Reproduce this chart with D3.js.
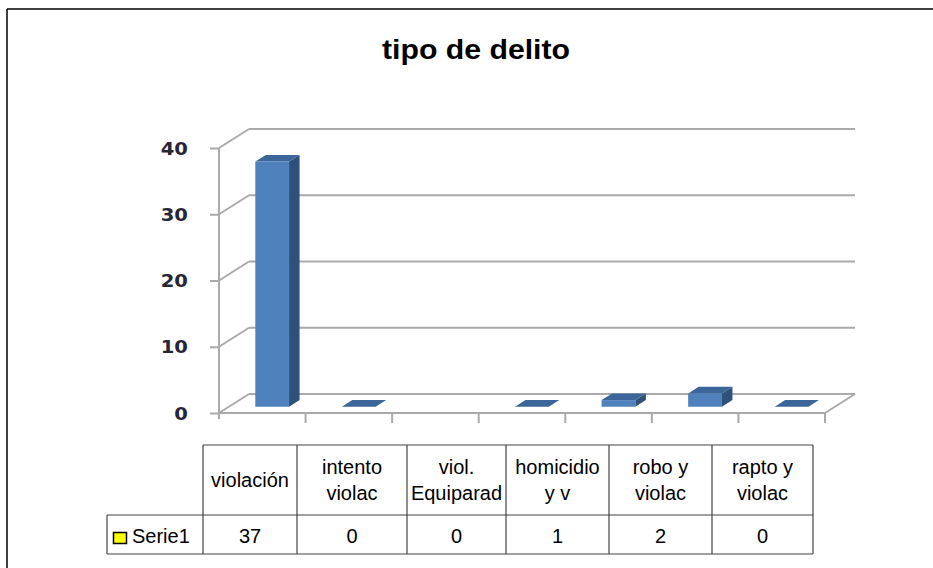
<!DOCTYPE html>
<html>
<head>
<meta charset="utf-8">
<script src="https://cdn.jsdelivr.net/npm/d3@7"></script>
<style>
  html, body { margin: 0; padding: 0; background: #fff; }
  svg { display: block; }
</style>
</head>
<body>
<svg id="chart" width="933" height="568"></svg>
<script>
// ---- data ----
const title = "tipo de delito";
const seriesName = "Serie1";
// axis slots of the 3D chart (one slot is blank in the original)
const slotCategories = ["violación", "intento violac", "", "viol. Equiparad", "homicidio y v", "robo y violac", "rapto y violac"];
const slotValues = [37, 0, null, 0, 1, 2, 0];
// data table below the chart
const tableHeaders = [["violación"], ["intento", "violac"], ["viol.", "Equiparad"], ["homicidio", "y v"], ["robo y", "violac"], ["rapto y", "violac"]];
const tableValues = [37, 0, 0, 1, 2, 0];
const yTicks = [0, 10, 20, 30, 40];

// ---- layout ----
const svg = d3.select("#chart");
const X0 = 219, X1 = 825;       // front floor line
const DX = 30, DY = -19;        // depth offset of back wall
const F0 = 0.33, F1 = 0.68;     // bar depth position fraction
const gridColor = "#aaaaaa";

const x = d3.scaleBand().domain(d3.range(slotCategories.length)).range([X0, X1]).paddingInner(0).paddingOuter(0);
const y = d3.scaleLinear().domain([0, 40]).range([413, 148]);

// frame
svg.append("line").attr("x1", 7).attr("x2", 7).attr("y1", 9).attr("y2", 568).attr("stroke", "#000").attr("stroke-width", 1.5);
svg.append("line").attr("x1", 7).attr("x2", 933).attr("y1", 9).attr("y2", 9).attr("stroke", "#000").attr("stroke-width", 1.5);

// title
svg.append("text").attr("x", 476).attr("y", 59)
  .attr("text-anchor", "middle")
  .attr("font-family", "Liberation Sans, Arial, sans-serif")
  .attr("font-weight", "bold").attr("font-size", 28)
  .attr("textLength", 188).attr("lengthAdjust", "spacingAndGlyphs")
  .text(title);

// grid: side wall diagonals + back wall horizontals
const grid = svg.append("g").attr("stroke", gridColor).attr("stroke-width", 2).attr("fill", "none");
yTicks.forEach(t => {
  grid.append("line").attr("x1", X0).attr("y1", y(t)).attr("x2", X0 + DX).attr("y2", y(t) + DY);
  grid.append("line").attr("x1", X0 + DX).attr("y1", y(t) + DY).attr("x2", X1 + DX).attr("y2", y(t) + DY);
});
// floor right edge + front edge
grid.append("line").attr("x1", X1).attr("y1", y(0)).attr("x2", X1 + DX).attr("y2", y(0) + DY);
grid.append("line").attr("x1", X0).attr("y1", y(0)).attr("x2", X1).attr("y2", y(0));

// y axis line and ticks
const yAxis = d3.axisLeft(y).tickValues(yTicks).tickSize(9).tickSizeOuter(0).tickFormat("");
const yg = svg.append("g").attr("transform", `translate(${X0},0)`).call(yAxis);
yg.select(".domain").attr("stroke", gridColor).attr("stroke-width", 2).attr("d", `M0,${y(40)}V${y(0) + 6}`);
yg.selectAll(".tick line").attr("stroke", gridColor).attr("stroke-width", 2);

// y labels
svg.append("g").selectAll("text").data(yTicks).join("text")
  .attr("transform", d => `translate(188,${y(d) + 6.5}) scale(1.12,1)`)
  .attr("text-anchor", "end")
  .attr("font-family", "DejaVu Sans, Verdana, sans-serif")
  .attr("font-weight", "bold").attr("font-size", 17.5)
  .attr("fill", "#262636")
  .text(d => d);

// x category ticks (boundaries)
const bounds = d3.range(1, slotCategories.length + 1).map(i => i < slotCategories.length ? x(i) : X1);
svg.append("g").selectAll("line").data(bounds).join("line")
  .attr("x1", d => d).attr("x2", d => d).attr("y1", y(0)).attr("y2", y(0) + 10)
  .attr("stroke", gridColor).attr("stroke-width", 2);

// 3D bars
const bw = x.bandwidth();
const barW = bw * 0.39;
const bdx = DX * (F1 - F0), bdy = DY * (F1 - F0);
const bars = svg.append("g");
slotValues.forEach((v, i) => {
  if (v === null) return;
  const bx = x(i) + (bw - barW) / 2 + DX * F0;
  const bottom = y(0) + DY * F0;
  const top = y(v) + DY * F0;
  if (v > 0) {
    bars.append("rect").attr("x", bx).attr("y", top).attr("width", barW).attr("height", bottom - top)
      .attr("fill", "#4f81bd");
    bars.append("path")
      .attr("d", `M${bx + barW},${top}L${bx + barW + bdx},${top + bdy}L${bx + barW + bdx},${bottom + bdy}L${bx + barW},${bottom}Z`)
      .attr("fill", "#2f5079");
  }
  bars.append("path")
    .attr("d", `M${bx},${top}L${bx + barW},${top}L${bx + barW + bdx},${top + bdy}L${bx + bdx},${top + bdy}Z`)
    .attr("fill", "#3c6699");
});

// ---- data table ----
const colEdges = [203, 297, 407, 506, 609, 712, 813];
const rowTop = 445, rowMid = 515, rowBot = 554, legendLeft = 107;
const tbl = svg.append("g").attr("stroke", "#444").attr("stroke-width", 1.2);
tbl.append("line").attr("x1", colEdges[0]).attr("x2", colEdges[colEdges.length - 1]).attr("y1", rowTop).attr("y2", rowTop);
tbl.append("line").attr("x1", legendLeft).attr("x2", colEdges[colEdges.length - 1]).attr("y1", rowMid).attr("y2", rowMid);
tbl.append("line").attr("x1", legendLeft).attr("x2", colEdges[colEdges.length - 1]).attr("y1", rowBot).attr("y2", rowBot);
tbl.append("line").attr("x1", legendLeft).attr("x2", legendLeft).attr("y1", rowMid).attr("y2", rowBot);
colEdges.forEach(cx => tbl.append("line").attr("x1", cx).attr("x2", cx).attr("y1", rowTop).attr("y2", rowBot));

const txt = svg.append("g").attr("font-family", "Liberation Sans, Arial, sans-serif").attr("font-size", 20).attr("fill", "#000");
tableHeaders.forEach((lines, i) => {
  const cx = (colEdges[i] + colEdges[i + 1]) / 2;
  const centers = lines.length === 1 ? [480] : [467, 493];
  lines.forEach((ln, j) => {
    txt.append("text").attr("x", cx).attr("y", centers[j] + 7).attr("text-anchor", "middle").text(ln);
  });
});
tableValues.forEach((v, i) => {
  const cx = (colEdges[i] + colEdges[i + 1]) / 2;
  txt.append("text").attr("x", cx).attr("y", 543).attr("text-anchor", "middle").text(v);
});
// legend key in table
svg.append("rect").attr("x", 113.5).attr("y", 532.5).attr("width", 13).attr("height", 11)
  .attr("fill", "#ffff00").attr("stroke", "#000").attr("stroke-width", 1.5);
txt.append("text").attr("x", 132).attr("y", 543).text(seriesName);
</script>
</body>
</html>
